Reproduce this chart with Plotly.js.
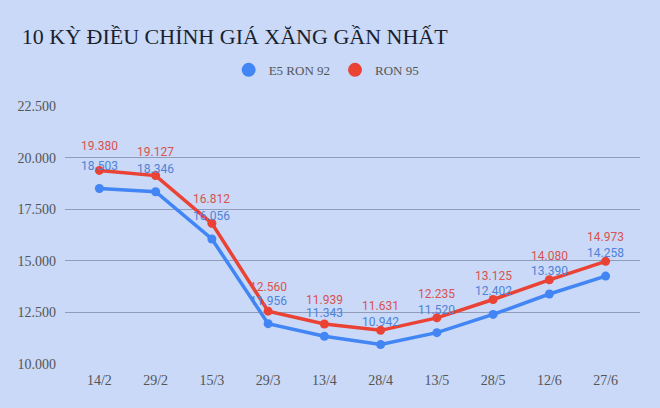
<!DOCTYPE html>
<html>
<head>
<meta charset="utf-8">
<script src="https://cdn.plot.ly/plotly-3.0.1.min.js"></script>
<style>html,body{margin:0;padding:0;background:#c9d9f7;}#chart{width:660px;height:408px;}</style>
</head>
<body>
<div id="chart"></div>
<script>
const categories = ["14/2","29/2","15/3","29/3","13/4","28/4","13/5","28/5","12/6","27/6"];
const e5Ron92 = [18503,18346,16056,11956,11343,10942,11520,12402,13390,14258];
const ron95 = [19380,19127,16812,12560,11939,11631,12235,13125,14080,14973];
const yTicks = [10000,12500,15000,17500,20000,22500];
const yTickLabels = ["10.000","12.500","15.000","17.500","20.000","22.500"];

const blue = "#4285f4", red = "#ea4335";
const blueText = "#4f82d8", redText = "#d9534f";
const fmt = v => v.toLocaleString("de-DE");
const serif = "'Liberation Serif', 'Times New Roman', serif";

const traces = [
  {x: categories, y: e5Ron92, name: "E5 RON 92", type: "scatter", mode: "lines+markers", showlegend: false,
   line: {color: blue, width: 3.5}, marker: {color: blue, size: 9}},
  {x: categories, y: ron95, name: "RON 95", type: "scatter", mode: "lines+markers", showlegend: false,
   line: {color: red, width: 3.5}, marker: {color: red, size: 9}},
  {x: [null], y: [null], name: "E5 RON 92", type: "scatter", mode: "markers", marker: {color: blue, size: 14}},
  {x: [null], y: [null], name: "RON 95", type: "scatter", mode: "markers", marker: {color: red, size: 14}}
];

const annotations = [];
categories.forEach((c, i) => {
  annotations.push({x: c, y: e5Ron92[i], text: fmt(e5Ron92[i]), showarrow: false, yshift: 23,
    font: {family: "Roboto, sans-serif", size: 12, color: blueText}});
  annotations.push({x: c, y: ron95[i], text: fmt(ron95[i]), showarrow: false, yshift: 24,
    font: {family: "Roboto, sans-serif", size: 12, color: redText}});
});

const layout = {
  width: 660, height: 408,
  paper_bgcolor: "#c9d9f7", plot_bgcolor: "#c9d9f7",
  margin: {l: 65, r: 20, t: 106, b: 44},
  title: {text: "10 KỲ ĐIỀU CHỈNH GIÁ XĂNG GẦN NHẤT", x: 0.033, xanchor: "left", y: 0.91, yanchor: "middle",
    font: {family: serif, size: 22, color: "#1a1f2e"}},
  showlegend: true,
  legend: {orientation: "h", x: 0.455, xanchor: "center", y: 1.14, yanchor: "middle",
    font: {family: serif, size: 13, color: "#555"}, itemwidth: 30},
  xaxis: {type: "category", showgrid: false, zeroline: false, showline: false, ticks: "", ticklabelstandoff: 6,
    tickfont: {family: serif, size: 14, color: "#555"}, fixedrange: true},
  yaxis: {range: [10000, 22500], tickvals: yTicks, ticktext: yTickLabels, showgrid: true, gridcolor: "#8f9dbb",
    gridwidth: 1, zeroline: false, showline: false, ticks: "", ticklabelstandoff: 8,
    tickfont: {family: serif, size: 14, color: "#555"}},
  annotations: annotations
};

Plotly.newPlot("chart", traces, layout, {displayModeBar: false, staticPlot: true});
</script>
</body>
</html>
